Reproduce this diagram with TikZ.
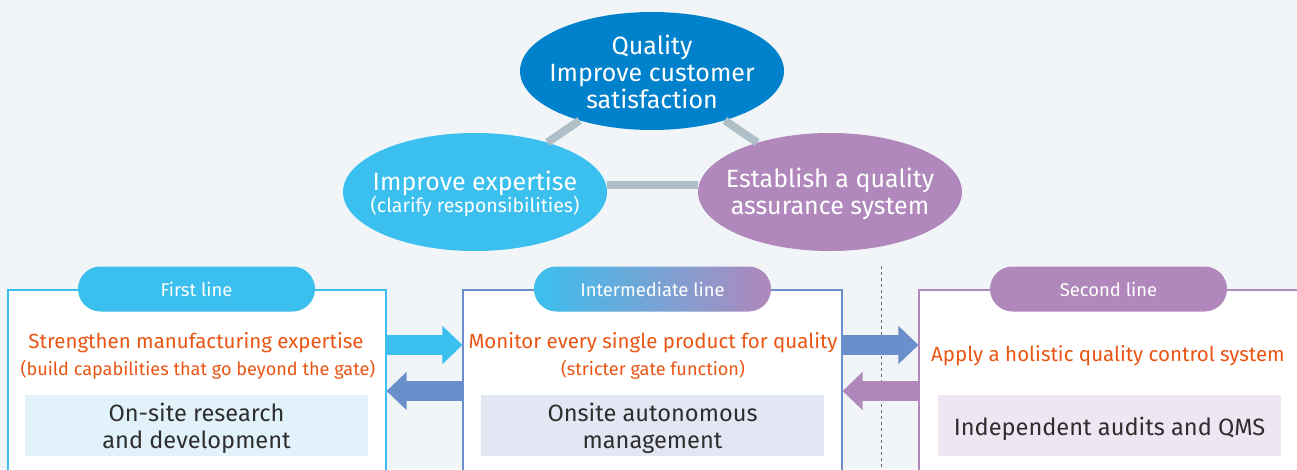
\documentclass[tikz,border=0pt]{standalone}
\usepackage{fontspec}
\setmainfont{Fira Sans}
\usetikzlibrary{shapes.geometric,arrows.meta}
\definecolor{bg}{HTML}{F1F5F8}
\definecolor{topblue}{HTML}{0081CC}
\definecolor{cyanc}{HTML}{3BBFEE}
\definecolor{purp}{HTML}{B088BC}
\definecolor{connc}{HTML}{AEBFC7}
\definecolor{arrblue}{HTML}{6B8FCB}
\definecolor{orangec}{HTML}{EA5514}
\definecolor{innerA}{HTML}{E1F2FB}
\definecolor{innerB}{HTML}{E3E6F3}
\definecolor{innerC}{HTML}{EEE6F2}
\definecolor{darktext}{HTML}{2E2E2E}
\tikzset{
  ell/.style={ellipse, minimum width=264pt, minimum height=118pt, inner sep=0pt},
  elltext/.style={text=white, align=center, inner sep=0pt},
  conn/.style={draw=connc, line width=8pt},
  bigbox/.style={draw, line width=1.1pt, fill=white, rectangle, inner sep=0pt},
  pill/.style={rectangle, rounded corners=22.5pt, minimum width=237pt, minimum height=45pt, inner sep=0pt, text=white, font=\fontsize{18.4}{20}\selectfont},
  innerbox/.style={rectangle, minimum width=343pt, minimum height=61pt, inner sep=0pt},
  innertext/.style={inner sep=0pt, text=darktext, align=center, font=\fontsize{23.6}{27}\selectfont},
  mainlbl/.style={text=orangec, font=\fontsize{20.5}{24}\selectfont, inner sep=0pt},
  sublbl/.style={text=orangec, font=\fontsize{18.1}{20}\selectfont, inner sep=0pt},
  fatarrow/.style={line width=20pt, -{Triangle[length=20pt,width=37pt]}},
}
\begin{document}
\begin{tikzpicture}[x=1pt,y=-1pt]
\useasboundingbox (0,0) rectangle (1297,469);
\clip (0,0) rectangle (1297,469);
\fill[bg] (0,0) rectangle (1297,469);

% ellipses
\node[ell, fill=topblue] (top) at (652,71) {};
\node[ell, fill=cyanc] (left) at (475,192) {};
\node[ell, fill=purp] (right) at (830,192) {};
\node[elltext, font=\fontsize{25}{27}\selectfont] (topt) at (652,72) {Quality\\Improve customer\\satisfaction};
\node[elltext] (leftt) at (475,194) {{\fontsize{25}{28}\selectfont Improve expertise}\\[-1pt]{\fontsize{19.5}{22}\selectfont (clarify responsibilities)}};
\node[elltext, font=\fontsize{25}{27}\selectfont] (rightt) at (830,194) {Establish a quality\\assurance system};
\draw[conn] (top) -- (left);
\draw[conn] (top) -- (right);
\draw[conn] (left.east |- 0,185) -- (right.west |- 0,185);

% dotted separator
\coordinate (sepT) at (881,266);
\coordinate (sepB) at (881,469);
\draw[draw=gray!80!black, line width=1pt, dash pattern=on 3pt off 3pt] (sepT) -- (sepB);

% boxes
\node[bigbox, draw=cyanc, minimum width=378pt, minimum height=200pt] (b1) at (197,390) {};
\node[bigbox, draw=arrblue, minimum width=379pt, minimum height=200pt] (b2) at (652.5,390) {};
\node[bigbox, draw=purp, minimum width=390pt, minimum height=200pt] (b3) at (1114,390) {};

% pills
\node[pill, fill=cyanc] (p1) at (196.5,289) {First line};
\node[pill, shading=axis, left color=cyanc, right color=purp, shading angle=90] (p2) at (652.5,289) {Intermediate line};
\node[pill, fill=purp] (p3) at (1108.5,289) {Second line};

% orange labels
\node[mainlbl] (m1) at (196,343) {Strengthen manufacturing expertise};
\node[sublbl] (s1) at (198,370) {(build capabilities that go beyond the gate)};
\node[mainlbl] (m2) at (653,343) {Monitor every single product for quality};
\node[sublbl] (s2) at (653,370) {(stricter gate function)};
\node[mainlbl] (m3) at (1108,356) {Apply a holistic quality control system};

% inner boxes
\node[innerbox, fill=innerA] (i1) at (196.5,425.5) {};
\node[innerbox, fill=innerB] (i2) at (652.5,425.5) {};
\node[innerbox, fill=innerC] (i3) at (1109.5,425.5) {};
\node[innertext] (i1t) at (196.5,428) {On-site research\\and development};
\node[innertext] (i2t) at (652.5,428) {Onsite autonomous\\management};
\node[innertext] (i3t) at (1109.5,428.5) {Independent audits and QMS};

% arrows
\coordinate (ya) at (0,345);
\coordinate (yb) at (0,391);
\draw[fatarrow, draw=cyanc, fill=cyanc] (b1.east |- ya) -- (b2.west |- ya);
\draw[fatarrow, draw=arrblue, fill=arrblue] (b2.west |- yb) -- (b1.east |- yb);
\draw[fatarrow, draw=arrblue, fill=arrblue] (b2.east |- ya) -- (b3.west |- ya);
\draw[fatarrow, draw=purp, fill=purp] (b3.west |- yb) -- (b2.east |- yb);
\end{tikzpicture}
\end{document}
